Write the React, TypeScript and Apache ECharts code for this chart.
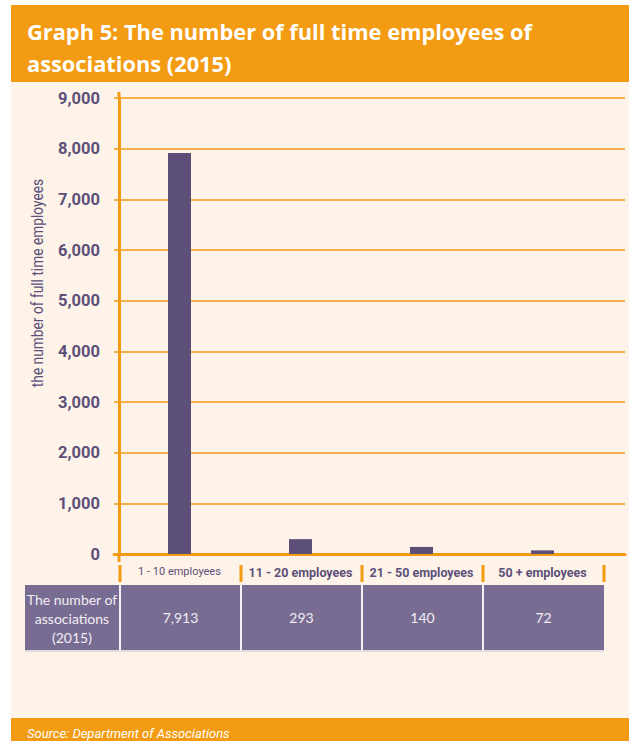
import React, { useEffect, useRef } from "react";
import * as echarts from "echarts";

const categories = ["1 - 10 employees", "11 - 20 employees", "21 - 50 employees", "50 + employees"];
const associations = [7913, 293, 140, 72];
const yTicks = [0, 1000, 2000, 3000, 4000, 5000, 6000, 7000, 8000, 9000];
const titleLines = ["Graph 5: The number of full time employees of", "associations (2015)"];
const rowLabel = "The number of\nassociations\n(2015)";
const yAxisName = "the number of full time employees";
const sourceText = "Source: Department of Associations";

const ORANGE = "#F39B12";
const CREAM = "#FEF3E9";
const PURPLE = "#5C5079";
const CELL = "#786C92";
const CELLTXT = "#F1EEF5";

export default function App() {
  const ref = useRef<HTMLDivElement>(null);
  useEffect(() => {
    const chart = echarts.init(ref.current!, undefined, { renderer: "svg" });
    const W = 629;
    const plotL = 119;
    const plotR = 603;
    const top = 98;
    const zeroY = 554;
    const colW = (plotR - plotL) / categories.length;
    const tableTop = 585;
    const tableBot = 650;

    const graphic: any[] = [
      { type: "rect", z: -10, shape: { x: 11, y: 5, width: W - 11, height: 741 - 5 }, style: { fill: CREAM } },
      { type: "rect", z: -5, shape: { x: 11, y: 5, width: W - 11, height: 77 }, style: { fill: ORANGE } },
      ...titleLines.map((t, i) => ({
        type: "text", x: 27, y: 31 + i * 32,
        style: { text: t, fill: "#fff", font: "bold 21.8px 'Open Sans', sans-serif", textVerticalAlign: "middle" },
      })),
      { type: "rect", z: -5, shape: { x: 11, y: 718, width: W - 11, height: 23 }, style: { fill: ORANGE } },
      { type: "text", x: 27, y: 733, style: { text: sourceText, fill: "#fff", font: "italic 13px Roboto, sans-serif", textVerticalAlign: "middle" } },
      // axis extensions
      { type: "line", shape: { x1: plotL, y1: 92, x2: plotL, y2: top }, style: { stroke: ORANGE, lineWidth: 3 } },
      { type: "line", shape: { x1: plotL, y1: zeroY, x2: plotL, y2: 562 }, style: { stroke: ORANGE, lineWidth: 3 } },
      // header separators
      ...[0, 1, 2, 3, 4].map((i) => ({
        type: "line", shape: { x1: plotL + 1 + i * colW, y1: 565, x2: plotL + 1 + i * colW, y2: 582 }, style: { stroke: ORANGE, lineWidth: 3 },
      })),
      // table
      { type: "rect", shape: { x: 25, y: tableTop, width: plotR + 1 - 25, height: tableBot - tableTop }, style: { fill: CELL } },
      { type: "line", shape: { x1: 25, y1: tableBot + 1, x2: plotR + 1, y2: tableBot + 1 }, style: { stroke: "#D8D4DE", lineWidth: 1.5 } },
      ...[0, 1, 2, 3].map((i) => ({
        type: "line", shape: { x1: plotL + 1 + i * colW, y1: tableTop, x2: plotL + 1 + i * colW, y2: tableBot + 1 }, style: { stroke: "#F4F1F6", lineWidth: 2 },
      })),
      { type: "text", x: 72, y: (tableTop + tableBot) / 2 + 1, style: { text: rowLabel, fill: CELLTXT, font: "14px Lato, sans-serif", lineHeight: 19, align: "center", verticalAlign: "middle" } },
      ...associations.map((v, i) => ({
        type: "text", x: plotL + 1 + (i + 0.5) * colW, y: (tableTop + tableBot) / 2,
        style: { text: v.toLocaleString("en-US"), fill: CELLTXT, font: "14px Lato, sans-serif", align: "center", verticalAlign: "middle" },
      })),
      { type: "text", x: 38, y: 283, rotation: Math.PI / 2, scaleX: 0.86,
        style: { text: yAxisName, fill: PURPLE, font: "16px Roboto, sans-serif", align: "center", verticalAlign: "middle" } },
    ];

    chart.setOption({
      animation: false,
      grid: [
        { left: plotL, width: plotR - plotL, top, height: zeroY - top },
        { left: 114, right: 4, top, height: zeroY - top },
      ],
      xAxis: [
        {
          type: "category", gridIndex: 0, data: categories,
          axisLine: { show: false }, axisTick: { show: false },
          axisLabel: {
            margin: 12, interval: 0,
            formatter: (v: string, i: number) => (i === 0 ? `{a|${v}}` : `{b|${v}}`),
            rich: {
              a: { color: PURPLE, fontSize: 11, fontFamily: "Roboto" },
              b: { color: PURPLE, fontSize: 12.5, fontWeight: "bold", fontFamily: "Roboto" },
            },
          },
        },
        {
          type: "value", gridIndex: 1, min: 0, max: 1,
          axisLine: { show: true, lineStyle: { color: ORANGE, width: 3 } },
          axisTick: { show: false }, axisLabel: { show: false }, splitLine: { show: false },
        },
      ],
      yAxis: [
        {
          type: "value", gridIndex: 0, min: yTicks[0], max: yTicks[yTicks.length - 1], interval: 1000,
          axisLine: { show: true, lineStyle: { color: ORANGE, width: 3 } },
          axisTick: { show: false },
          splitLine: { show: false },
          axisLabel: {
            margin: 19, color: PURPLE, fontSize: 16.5, fontWeight: "bold", fontFamily: "Roboto",
            formatter: (v: number) => v.toLocaleString("en-US"),
          },
        },
        {
          type: "value", gridIndex: 1, min: yTicks[0], max: yTicks[yTicks.length - 1], interval: 1000,
          axisLine: { show: false }, axisTick: { show: false }, axisLabel: { show: false },
          splitLine: { show: true, lineStyle: { color: ORANGE, width: 1.5 } },
        },
      ],
      series: [
        {
          type: "bar", xAxisIndex: 0, yAxisIndex: 0, data: associations, barWidth: 23,
          itemStyle: { color: PURPLE }, z: 5,
        },
      ],
      graphic,
    });
    return () => chart.dispose();
  }, []);
  return <div ref={ref} style={{ position: "absolute", left: 0, top: 0, width: 629, height: 741 }} />;
}
